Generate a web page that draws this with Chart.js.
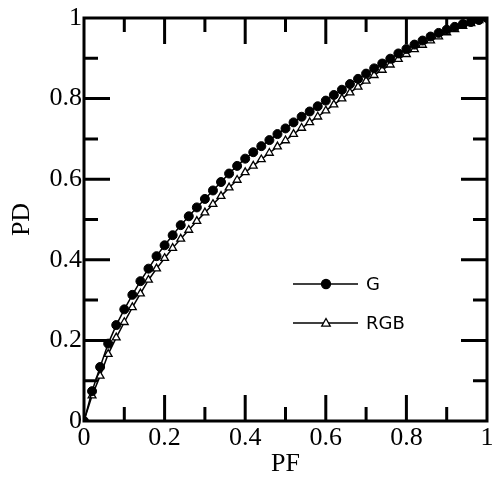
<!DOCTYPE html>
<html>
<head>
<meta charset="utf-8">
<script src="https://cdn.jsdelivr.net/npm/chart.js@4.4.1/dist/chart.umd.min.js"></script>
<style>
html,body{margin:0;padding:0;background:#fff;}
#wrap{width:499px;height:477px;}
</style>
</head>
<body>
<div id="wrap"><canvas id="c" width="499" height="477"></canvas></div>
<script>
const PF = [0,0.02,0.04,0.06,0.08,0.10,0.12,0.14,0.16,0.18,0.20,0.22,0.24,0.26,0.28,0.30,0.32,0.34,0.36,0.38,0.40,0.42,0.44,0.46,0.48,0.50,0.52,0.54,0.56,0.58,0.60,0.62,0.64,0.66,0.68,0.70,0.72,0.74,0.76,0.78,0.80,0.82,0.84,0.86,0.88,0.90,0.92,0.94,0.96,0.98,1.00];
const PD_G = [0,0.074,0.134,0.192,0.238,0.277,0.313,0.347,0.378,0.409,0.436,0.461,0.486,0.508,0.530,0.551,0.572,0.593,0.614,0.633,0.651,0.667,0.682,0.697,0.712,0.726,0.741,0.755,0.768,0.781,0.795,0.809,0.822,0.836,0.849,0.862,0.875,0.887,0.899,0.912,0.923,0.934,0.944,0.954,0.963,0.971,0.978,0.985,0.990,0.995,1.000];
const PD_RGB = [0,0.063,0.112,0.166,0.207,0.245,0.282,0.316,0.350,0.378,0.404,0.429,0.452,0.474,0.496,0.517,0.538,0.558,0.579,0.598,0.617,0.633,0.649,0.665,0.681,0.696,0.712,0.727,0.741,0.755,0.770,0.785,0.800,0.815,0.829,0.844,0.858,0.871,0.884,0.898,0.910,0.922,0.933,0.944,0.954,0.964,0.972,0.980,0.987,0.994,1.000];
const SERIES_NAMES = ['G','RGB'];
const X_TITLE = 'PF';
const Y_TITLE = 'PD';

function pts(xs, ys){ return xs.map((x,i)=>({x:x, y:ys[i]})); }

const frameTicks = {
  id:'frameTicks',
  afterDatasetsDraw(chart){
    const {ctx, chartArea:a, scales:{x,y}} = chart;
    ctx.save();
    ctx.strokeStyle = '#000';
    ctx.lineWidth = 3;
    ctx.lineCap = 'butt';
    ctx.strokeRect(a.left, a.top, a.right - a.left, a.bottom - a.top);
    for (let i = 1; i < 10; i++) {
      const v = i / 10;
      const len = (i % 2 === 0) ? 26 : 14;
      const px = x.getPixelForValue(v);
      const py = y.getPixelForValue(v);
      ctx.beginPath();
      ctx.moveTo(px, a.bottom); ctx.lineTo(px, a.bottom - len);
      ctx.moveTo(px, a.top); ctx.lineTo(px, a.top + len);
      ctx.moveTo(a.left, py); ctx.lineTo(a.left + len, py);
      ctx.moveTo(a.right, py); ctx.lineTo(a.right - len, py);
      ctx.stroke();
    }
    // legend
    const items = chart.data.datasets;
    const lx0 = 293, lx1 = 358, mx = 326, ty = [284, 323], tx = 366;
    ctx.font = '18px "DejaVu Sans"';
    ctx.textBaseline = 'middle';
    ctx.fillStyle = '#000';
    items.forEach((ds, i) => {
      const yy = ty[i];
      ctx.strokeStyle = '#000';
      ctx.lineWidth = 1.5;
      ctx.beginPath(); ctx.moveTo(lx0, yy); ctx.lineTo(lx1, yy); ctx.stroke();
      ctx.fillStyle = ds.pointBackgroundColor;
      ctx.lineWidth = 1.3;
      ctx.beginPath();
      if (ds.pointStyle === 'circle') {
        ctx.arc(mx, yy, ds.pointRadius, 0, Math.PI*2);
      } else {
        const r = ds.pointRadius;
        ctx.moveTo(mx, yy - r);
        ctx.lineTo(mx + r*0.95, yy + r*0.7);
        ctx.lineTo(mx - r*0.95, yy + r*0.7);
        ctx.closePath();
      }
      ctx.fill(); ctx.stroke();
      ctx.fillStyle = '#000';
      ctx.fillText(ds.label, tx, yy + 1);
    });
    ctx.restore();
  }
};

new Chart(document.getElementById('c'), {
  type: 'line',
  data: {
    datasets: [
      { label: SERIES_NAMES[0], data: pts(PF, PD_G), borderColor:'#000', borderWidth:1.5,
        pointStyle:'circle', pointRadius:4.5, pointBackgroundColor:'#000', pointBorderColor:'#000', pointBorderWidth:1, tension:0 },
      { label: SERIES_NAMES[1], data: pts(PF, PD_RGB), borderColor:'#000', borderWidth:1.5,
        pointStyle:'triangle', pointRadius:4.5, pointBackgroundColor:'#fff', pointBorderColor:'#000', pointBorderWidth:1.3, tension:0 }
    ]
  },
  options: {
    responsive:false, animation:false, devicePixelRatio:1,
    layout:{ padding:{ top:18, right:12, left:0, bottom:0 } },
    plugins:{ legend:{display:false}, tooltip:{enabled:false} },
    scales:{
      x:{ type:'linear', min:0, max:1,
        grid:{display:false, drawTicks:false}, border:{display:false},
        ticks:{ stepSize:0.2, padding:2, color:'#000', font:{family:'"Liberation Serif"', size:26},
          callback:(v)=> (Math.round(v*10)/10).toString(), maxRotation:0, autoSkip:false },
        title:{ display:true, text:X_TITLE, color:'#000', font:{family:'"Liberation Serif"', size:26, lineHeight:1}, padding:0 },
        afterFit(s){ s.height = 56; }
      },
      y:{ type:'linear', min:0, max:1,
        grid:{display:false, drawTicks:false}, border:{display:false},
        ticks:{ stepSize:0.2, padding:2, color:'#000', font:{family:'"Liberation Serif"', size:26},
          callback:(v)=> (Math.round(v*10)/10).toString(), autoSkip:false },
        title:{ display:true, text:Y_TITLE, color:'#000', font:{family:'"Liberation Serif"', size:26, lineHeight:1}, padding:{top:9,bottom:0} },
        afterFit(s){ s.width = 84; }
      }
    }
  },
  plugins:[frameTicks]
});
</script>
</body>
</html>
